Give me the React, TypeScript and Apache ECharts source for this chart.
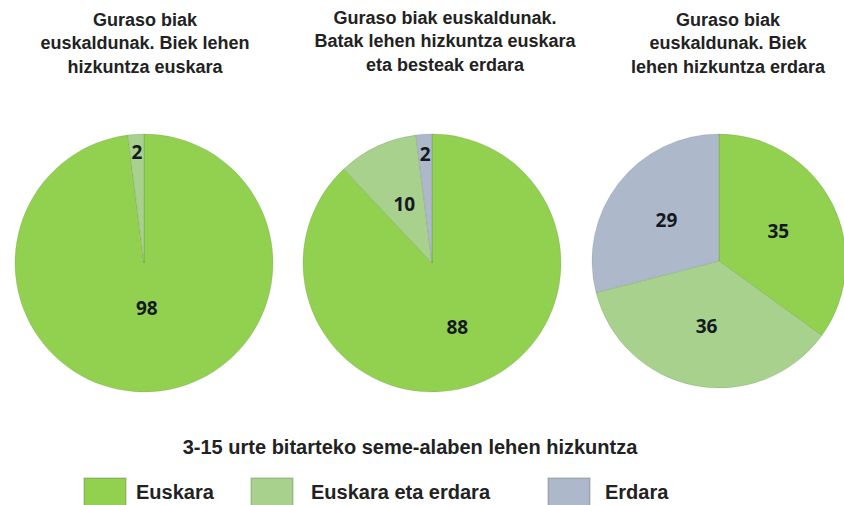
import React, { useEffect, useRef } from "react";
import * as echarts from "echarts";

// ---- data ----
const categories = ["Euskara", "Euskara eta erdara", "Erdara"];
const pieTitles = [
  "Guraso biak\neuskaldunak. Biek lehen\nhizkuntza euskara",
  "Guraso biak euskaldunak.\nBatak lehen hizkuntza euskara\neta besteak erdara",
  "Guraso biak\neuskaldunak. Biek\nlehen hizkuntza erdara",
];
const pie1Values = [98, 2, 0];
const pie2Values = [88, 10, 2];
const pie3Values = [35, 36, 29];
const legendTitle = "3-15 urte bitarteko seme-alaben lehen hizkuntza";

// ---- styles / layout ----
const colors = ["#92d050", "#a9d18e", "#adb9ca"];
const pieCenters = [
  [144, 263],
  [432, 263],
  [719, 261],
];
const pieRadius = [129, 129, 127];
// radial position of each label as a fraction of the radius
const labelFracs = [
  [0.33, 0.84, 0.5],
  [0.51, 0.48, 0.82],
  [0.5, 0.5, 0.5],
];
const titleCenters = [145, 445, 728];
const titleTops = [8, 6, 8];
const legendLefts = [83, 250, 547];
const legendTextPad = [
  [0, 0, 8, 5],
  [0, 0, 8, 13],
  [0, 0, 16, 10],
];

const FONT = "'Liberation Sans', Arial, sans-serif";

export default function App() {
  const ref = useRef<HTMLDivElement>(null);

  useEffect(() => {
    if (!ref.current) return;
    const chart = echarts.init(ref.current, undefined, { renderer: "svg" });
    const allValues = [pie1Values, pie2Values, pie3Values];

    const seriesItems = allValues.map((vals, si) =>
      vals
        .map((v, ci) => ({ v, ci }))
        .filter((d) => d.v > 0)
    );

    const series = seriesItems.map((items, si) => {
      const total = items.reduce((s, d) => s + d.v, 0);
      let acc = 0;
      const mids = items.map((d) => {
        const mid = ((acc + d.v / 2) / total) * Math.PI * 2;
        acc += d.v;
        return mid;
      });
      const r = pieRadius[si];
      return {
        type: "pie",
        center: pieCenters[si],
        radius: [0, r],
        startAngle: 90,
        clockwise: true,
        avoidLabelOverlap: false,
        silent: true,
        data: items.map((d) => ({
          name: categories[d.ci],
          value: d.v,
          itemStyle: { color: colors[d.ci] },
        })),
        itemStyle: { borderWidth: 0.8, borderColor: "rgba(60,80,50,0.18)" },
        label: {
          show: true,
          position: "inside",
          formatter: "{c}",
          fontFamily: "'Open Sans', 'Noto Sans', sans-serif",
          fontWeight: "bold",
          fontSize: 19,
          color: "#141a22",
        },
        labelLine: { show: false },
        labelLayout: (params: any) => {
          const di = params.dataIndex;
          const ci = items[di].ci;
          const f = labelFracs[si][ci] - 0.5;
          const m = mids[di];
          return { dx: Math.sin(m) * f * r, dy: -Math.cos(m) * f * r };
        },
      };
    });

    const titles = pieTitles.map((t, i) => ({
      text: t,
      left: titleCenters[i],
      top: titleTops[i],
      textAlign: "center",
      padding: 0,
      textStyle: {
        fontFamily: FONT,
        fontWeight: "bold",
        fontSize: 18,
        lineHeight: 23.5,
        color: "#222",
      },
    }));
    titles.push({
      text: legendTitle,
      left: 410,
      top: 436,
      textAlign: "center",
      padding: 0,
      textStyle: {
        fontFamily: FONT,
        fontWeight: "bold",
        fontSize: 20,
        lineHeight: 22,
        color: "#222",
      },
    } as any);

    const legends = categories.map((c, i) => ({
      data: [c],
      left: legendLefts[i],
      top: 477,
      orient: "horizontal",
      padding: 0,
      itemWidth: 42,
      itemHeight: 28,
      icon: "rect",
      selectedMode: false,
      textStyle: {
        fontFamily: FONT,
        fontWeight: "bold",
        fontSize: 20,
        color: "#222",
        padding: legendTextPad[i],
      },
    }));

    chart.setOption({
      animation: false,
      backgroundColor: "#ffffff",
      title: titles,
      legend: legends,
      series,
    } as any);

    return () => chart.dispose();
  }, []);

  return (
    <div
      ref={ref}
      style={{ position: "fixed", left: 0, top: 0, width: 844, height: 505 }}
    />
  );
}
